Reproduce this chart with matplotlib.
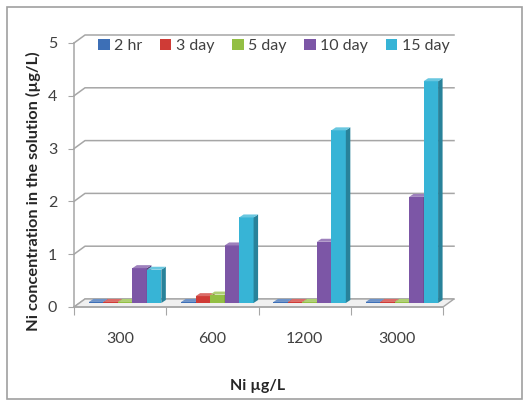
import matplotlib
matplotlib.use('Agg')
import matplotlib.pyplot as plt
from matplotlib.patches import Polygon, Rectangle, Patch
import matplotlib.colors as mcolors
import numpy as np

categories = ['300', '600', '1200', '3000']
series = ['2 hr', '3 day', '5 day', '10 day', '15 day']
v_2hr = [0.02, 0.02, 0.02, 0.02]
v_3day = [0.02, 0.13, 0.02, 0.02]
v_5day = [0.02, 0.16, 0.02, 0.02]
v_10day = [0.66, 1.09, 1.16, 2.01]
v_15day = [0.63, 1.62, 3.27, 4.20]
values = [v_2hr, v_3day, v_5day, v_10day, v_15day]
yticks = [0, 1, 2, 3, 4, 5]
colors = ['#3d6fb6', '#cf3b36', '#93bf44', '#7c56a6', '#37b4d6']

plt.rcParams['font.family'] = ['Lato', 'DejaVu Sans']

W, H = 530, 400
fig = plt.figure(figsize=(W / 100, H / 100), dpi=100)
fig.patch.set_facecolor('white')
L, R, B, T = 74, 443, 307, 43
ax = fig.add_axes([L / W, 1 - B / H, (R - L) / W, (B - T) / H])
ax.set_xlim(0, len(categories))
ax.set_ylim(0, 5)
ax.patch.set_alpha(0)

pxx = (R - L) / len(categories)
pxy = (B - T) / 5


def d(px, py):
    return px / pxx, py / pxy


wall_dx, wall_dy = d(11, 8)
mid_dx, mid_dy = d(5, 4)
side_dx, side_dy = d(4.5, 3)

gcol = '#a6a6a6'
ncat = len(categories)
# back wall gridlines + left wall diagonals
for y in yticks:
    ax.plot([0, wall_dx, ncat + wall_dx], [y, y + wall_dy, y + wall_dy],
            color=gcol, lw=1.1, clip_on=False, zorder=1)

# floor
floor = Polygon([(0, 0), (ncat, 0), (ncat + wall_dx, wall_dy), (wall_dx, wall_dy)],
                closed=True, facecolor='#f0f0f0', edgecolor=gcol, lw=1.0,
                clip_on=False, zorder=2)
ax.add_patch(floor)


def shade(c, f):
    r, g, b = mcolors.to_rgb(c)
    if f < 1:
        return (r * f, g * f, b * f)
    return (r + (1 - r) * (f - 1), g + (1 - g) * (f - 1), b + (1 - b) * (f - 1))


bw = 0.157
for i, (s, vals, c) in enumerate(zip(series, values, colors)):
    xs = np.arange(ncat) + 0.5 - 2.5 * bw + i * bw + mid_dx
    ax.bar(xs, vals, width=bw, bottom=mid_dy, align='edge', color=c,
           edgecolor='none', zorder=3 + i * 0.01, clip_on=False)
    for x0, v in zip(xs, vals):
        top = v + mid_dy
        side = Polygon([(x0 + bw, mid_dy), (x0 + bw, top),
                        (x0 + bw + side_dx, top + side_dy),
                        (x0 + bw + side_dx, mid_dy + side_dy)],
                       closed=True, facecolor=shade(c, 0.72), edgecolor='none',
                       zorder=3 + i * 0.01, clip_on=False)
        tp = Polygon([(x0, top), (x0 + bw, top), (x0 + bw + side_dx, top + side_dy),
                      (x0 + side_dx, top + side_dy)],
                     closed=True, facecolor=shade(c, 1.25), edgecolor='none',
                     zorder=3 + i * 0.01, clip_on=False)
        ax.add_patch(side)
        ax.add_patch(tp)

# spines / ticks
for sp in ['top', 'right']:
    ax.spines[sp].set_visible(False)
ax.spines['left'].set_color(gcol)
ax.spines['bottom'].set_color(gcol)
ax.spines['left'].set_linewidth(1.1)
ax.spines['bottom'].set_linewidth(1.1)
ax.set_yticks(yticks)
ax.set_yticklabels([str(t) for t in yticks])
ax.tick_params(axis='y', direction='out', length=4, color=gcol, pad=8,
               labelsize=11.5, labelcolor='#404040')
ax.set_xticks(np.arange(ncat + 1))
ax.set_xticklabels([])
ax.set_xticks(np.arange(ncat) + 0.5, minor=True)
ax.set_xticklabels(categories, minor=True)
ax.tick_params(axis='x', which='major', direction='out', length=6, color=gcol)
ax.tick_params(axis='x', which='minor', length=0, pad=18, labelsize=11.5,
               labelcolor='#404040')

# legend
handles = [Patch(facecolor=c, edgecolor='none') for c in colors]
fig.legend(handles, series, loc='center', bbox_to_anchor=(274 / W, 1 - 46 / H),
           ncol=5, frameon=False, fontsize=11.5, handlelength=0.7, handleheight=0.7,
           handletextpad=0.3, columnspacing=1.1, labelcolor='#404040')

fig.text(33 / W, 1 - 191 / H, 'Ni concentration in the solution (µg/L)',
         rotation=90, ha='center', va='center', fontsize=11.8, fontweight='bold',
         color='#262626')
fig.text(258 / W, 1 - 386 / H, 'Ni µg/L', ha='center', va='center',
         fontsize=11.5, fontweight='bold', color='#262626')

# outer border
fig.patches.append(Rectangle((7 / W, 1.5 / H), (522 - 7) / W, (400 - 7 - 1.5) / H,
                             transform=fig.transFigure, fill=False,
                             edgecolor='#a0a0a0', lw=1.2))

fig.savefig('out.png', dpi=100)
